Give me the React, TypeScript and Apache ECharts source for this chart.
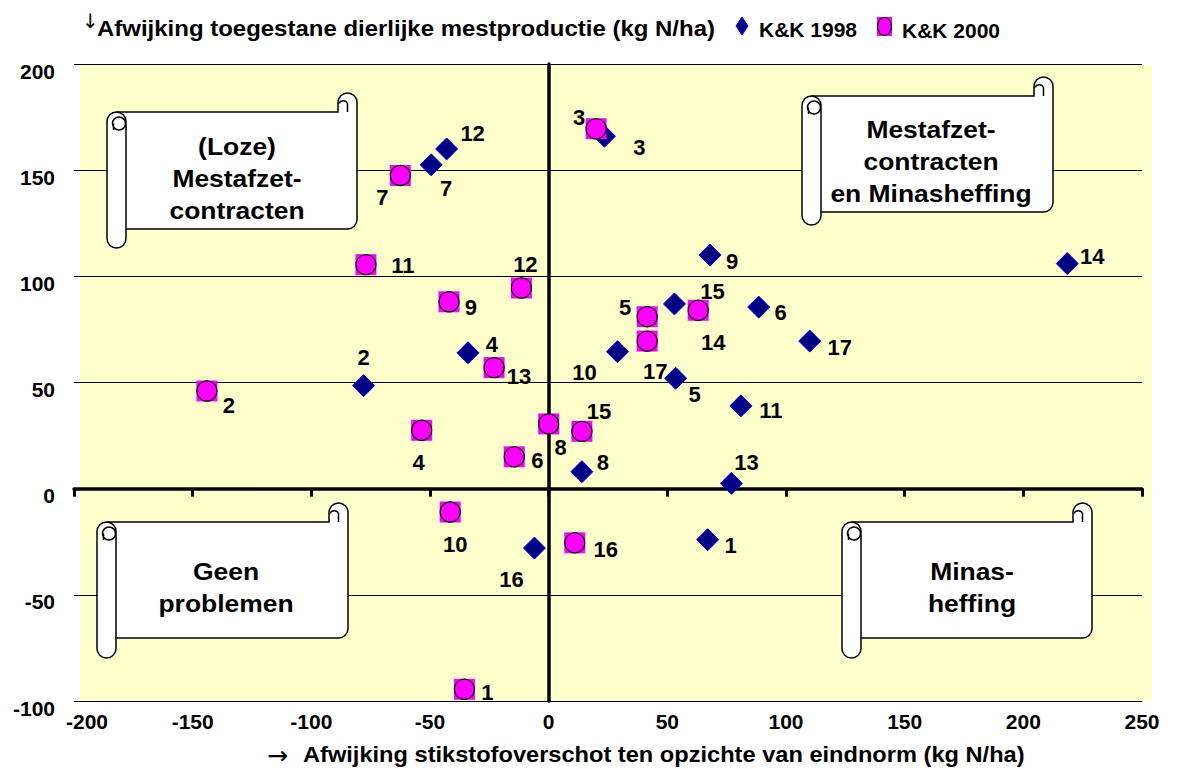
import { useEffect, useRef } from "react";
import * as echarts from "echarts";

// Farm numbers shown next to each point
const POINT_NO = [1, 2, 3, 4, 5, 6, 7, 8, 9, 10, 11, 12, 13, 14, 15, 16, 17];

// K&K 1998: deviation of N surplus (x) and of allowed manure production (y), kg N/ha
const KK1998_X = [67, -78, 23.5, -34, 53.5, 88.5, -49.5, 14, 68, 29, 81, -43, 77, 218.5, 53, -6, 110];
const KK1998_Y = [-24, 48.5, 166, 64, 52, 85.5, 152.5, 8, 110, 64.5, 39, 160, 2.5, 106, 87, -28, 69.5];

// K&K 2000
const KK2000_X = [-35.5, -144, 20, -53.5, 41.5, -14.5, -62.5, 0, -42, -41.5, -77, -11.5, -23, 63, 14, 11, 41.5];
const KK2000_Y = [-94.5, 46, 169.5, 27.5, 81, 15, 147.5, 30.5, 88, -11, 105.5, 94.5, 57, 84, 27, -25.5, 69.5];

const SERIES_NAMES = ["K&K 1998", "K&K 2000"];
const X_TITLE = "Afwijking stikstofoverschot ten opzichte van eindnorm (kg N/ha)";
const Y_TITLE = "Afwijking toegestane dierlijke mestproductie (kg N/ha)";
const X_ARROW = "\u2192";
const Y_ARROW = "\u2193";
const PANEL_TEXT = [
  "(Loze)\nMestafzet-\ncontracten",
  "Mestafzet-\ncontracten\nen Minasheffing",
  "Geen\nproblemen",
  "Minas-\nheffing",
];

// label placement (px offset from the marker centre), per farm number
const LABEL_OFF_1998 = [
  [23, 6], [0, -28], [35, 11], [24, -8], [19, 16], [22, 5], [15, 24], [21, -9], [22, 6],
  [-33, 21], [30, 5], [26, -15], [15, -21], [25, -7], [38, -12], [-23, 31], [30, 6],
];
const LABEL_OFF_2000 = [
  [23, 3], [22, 15], [-17, -11], [-3, 32], [-22, -9], [23, 4], [-18, 22], [12, 24], [22, 6],
  [5, 32], [37, 1], [4, -24], [25, 9], [15, 32], [17, -20], [31, 7], [8, 30],
];

// scroll panels: left, top, right, roll bottom, body bottom
const PANELS = [
  { L: 107, T: 93, R: 357, B: 248, BB: 229, cx: 237, cy: 179 },
  { L: 802, T: 77, R: 1053, B: 225, BB: 212, cx: 931, cy: 162 },
  { L: 97, T: 503, R: 348, B: 658, BB: 638, cx: 226, cy: 588 },
  { L: 842, T: 503, R: 1092, B: 658, BB: 638, cx: 972, cy: 588 },
];

const FONT = "'Liberation Sans', Arial, sans-serif";
const ARROW_FONT = "'DejaVu Sans', sans-serif";
const W = 19;

function outlinePath(p: any) {
  const { L, T, R, B, BB } = p;
  const r = W / 2;
  return [
    `M${L + r} ${T + W}`,
    `L${R - W} ${T + W}`,
    `L${R - W} ${T + r}`,
    `A${r} ${r} 0 0 1 ${R} ${T + r}`,
    `L${R} ${BB - r}`,
    `A${r} ${r} 0 0 1 ${R - r} ${BB}`,
    `L${L + W} ${BB}`,
    `L${L + W} ${B - r}`,
    `A${r} ${r} 0 0 1 ${L} ${B - r}`,
    `L${L} ${T + W + r}`,
    `A${r} ${r} 0 0 1 ${L + r} ${T + W}`,
    "Z",
  ].join(" ");
}

function detailPath(p: any) {
  const { L, T, R, BB } = p;
  const r = W / 2;
  const cr = r - 3;
  const ccx = L + r + 2.5;
  const ccy = T + W + r + 2;
  return [
    // right side of the left roll
    `M${L + r} ${T + W} A${r} ${r} 0 0 1 ${L + W} ${T + W + r} L${L + W} ${BB}`,
    // curl at the top of the left roll
    `M${ccx - cr} ${ccy} A${cr} ${cr} 0 1 1 ${ccx + cr} ${ccy} A${cr} ${cr} 0 1 1 ${ccx - cr} ${ccy}`,
    `M${ccx - cr + 1} ${ccy} L${ccx - cr + 1} ${ccy + cr}`,
    // curl at the top right
    `M${R - r} ${T + W} L${R - r} ${T + r + 1} A${r / 2} ${r / 2} 0 0 0 ${R - W + 1} ${T + r + 1}`,
  ].join(" ");
}

PANELS.forEach((p, i) => {
  echarts.graphic.registerShape("scrollBody" + i, echarts.graphic.extendPath(outlinePath(p), {}));
  echarts.graphic.registerShape("scrollLine" + i, echarts.graphic.extendPath(detailPath(p), {}));
});

function buildData(xs: number[], ys: number[], offs: number[][] | null) {
  return xs.map((x, i) => {
    const item: any = { value: [x, ys[i], POINT_NO[i]] };
    if (offs) item.label = { offset: offs[i] };
    return item;
  });
}

export default function App() {
  const ref = useRef<HTMLDivElement>(null);

  useEffect(() => {
    if (!ref.current) return;
    const chart = echarts.init(ref.current, null, { renderer: "svg" });

    const numLabel = {
      show: true,
      position: "inside",
      formatter: (p: any) => String(p.value[2]),
      color: "#000000",
      opacity: 1,
      fontSize: 22,
      fontWeight: "bold",
      fontFamily: FONT,
      align: "center",
      verticalAlign: "middle",
      textBorderWidth: 0,
      textBorderColor: "transparent",
      textShadowBlur: 0,
      textShadowColor: "transparent",
    };

    const textStyle = (size: number) => ({
      fill: "#000",
      fontSize: size,
      fontWeight: "bold",
      fontFamily: FONT,
      align: "left",
      verticalAlign: "middle",
    });

    const graphics: any[] = [
      {
        type: "rect",
        z: -10,
        silent: true,
        shape: { x: 80, y: 65, width: 1072, height: 635 },
        style: { fill: "#FFFFCC" },
      },
    ];

    PANELS.forEach((p, i) => {
      graphics.push({
        type: "scrollBody" + i,
        z: 10,
        silent: true,
        style: { fill: "#FFFFFF", stroke: "#000000", lineWidth: 1.5 },
      });
      graphics.push({
        type: "scrollLine" + i,
        z: 11,
        silent: true,
        style: { fill: null, stroke: "#000000", lineWidth: 1.5 },
      });
      graphics.push({
        type: "text",
        z: 12,
        silent: true,
        x: p.cx,
        y: p.cy,
        scaleX: 1.15,
        style: {
          text: PANEL_TEXT[i],
          fill: "#000",
          fontSize: 23,
          fontWeight: "bold",
          fontFamily: FONT,
          align: "center",
          verticalAlign: "middle",
          lineHeight: 32,
        },
      });
    });

    // axis titles and legend
    graphics.push(
      {
        type: "text",
        silent: true,
        x: 82,
        y: 21,
        style: {
          text: Y_ARROW,
          fill: "#000",
          fontSize: 20,
          fontWeight: "normal",
          fontFamily: ARROW_FONT,
          align: "left",
          verticalAlign: "middle",
        },
      },
      {
        type: "text",
        silent: true,
        x: 97,
        y: 28,
        scaleX: 1.09,
        style: { ...textStyle(22), text: Y_TITLE },
      },
      {
        type: "polygon",
        silent: true,
        shape: { points: [[742, 17], [748, 26], [742, 35], [736, 26]] },
        style: { fill: "#000080", stroke: "#0000FF", lineWidth: 1 },
      },
      {
        type: "text",
        silent: true,
        x: 759,
        y: 29,
        style: { ...textStyle(21), text: SERIES_NAMES[0] },
      },
      {
        type: "rect",
        silent: true,
        shape: { x: 877, y: 17, width: 15, height: 19 },
        style: { fill: "#FF00FF" },
      },
      {
        type: "ellipse",
        silent: true,
        shape: { cx: 884.5, cy: 26.5, rx: 7, ry: 9 },
        style: { fill: "#FF00FF", stroke: "#000", lineWidth: 1.2 },
      },
      {
        type: "text",
        silent: true,
        x: 902,
        y: 30,
        style: { ...textStyle(21), text: SERIES_NAMES[1] },
      },
      {
        type: "text",
        silent: true,
        x: 267,
        y: 755,
        style: {
          text: X_ARROW,
          fill: "#000",
          fontSize: 25,
          fontWeight: "normal",
          fontFamily: ARROW_FONT,
          align: "left",
          verticalAlign: "middle",
        },
      },
      {
        type: "text",
        silent: true,
        x: 303,
        y: 754,
        scaleX: 1.074,
        style: { ...textStyle(22), text: X_TITLE },
      }
    );

    const tickLabel = {
      color: "#000",
      fontSize: 21,
      fontWeight: "bold",
      fontFamily: FONT,
    };

    chart.setOption({
      animation: false,
      backgroundColor: "#FFFFFF",
      grid: { left: 74, right: 37, top: 64, bottom: 69, containLabel: false },
      xAxis: [
        {
          type: "value",
          min: -200,
          max: 250,
          interval: 50,
          position: "bottom",
          axisLine: { show: false, onZero: false },
          axisTick: { show: false },
          splitLine: { show: false },
          axisLabel: {
            ...tickLabel,
            margin: 10,
            formatter: (v: number) => (v === -200 ? "{first|" + v + "}" : String(v)),
            rich: {
              first: { ...tickLabel, padding: [0, 0, 0, 26] },
            },
          },
        },
        {
          type: "value",
          min: -200,
          max: 250,
          interval: 50,
          position: "bottom",
          axisLine: { show: true, onZero: true, onZeroAxisIndex: 0, lineStyle: { color: "#000", width: 3.5 } },
          axisTick: { show: true, length: 8, lineStyle: { color: "#000", width: 3 } },
          splitLine: { show: false },
          axisLabel: { show: false },
        },
      ],
      yAxis: [
        {
          type: "value",
          min: -100,
          max: 200,
          interval: 50,
          position: "left",
          axisLine: { show: false, onZero: false },
          axisTick: { show: false },
          splitLine: { show: true, lineStyle: { color: "#000", width: 1 } },
          axisLabel: { ...tickLabel, margin: 19, verticalAlign: "top", lineHeight: 14 },
        },
        {
          type: "value",
          min: -100,
          max: 200,
          interval: 50,
          position: "left",
          axisLine: { show: true, onZero: true, onZeroAxisIndex: 0, lineStyle: { color: "#000", width: 3.5 } },
          axisTick: { show: false },
          splitLine: { show: false },
          axisLabel: { show: false },
        },
      ],
      graphic: graphics,
      series: [
        {
          name: SERIES_NAMES[0],
          type: "scatter",
          xAxisIndex: 0,
          yAxisIndex: 0,
          symbol: "diamond",
          symbolSize: 22,
          itemStyle: { color: "#000080", borderColor: "#0000FF", borderWidth: 1, opacity: 1 },
          label: numLabel,
          emphasis: { disabled: true },
          z: 3,
          data: buildData(KK1998_X, KK1998_Y, LABEL_OFF_1998),
        },
        {
          name: SERIES_NAMES[1] + " ",
          type: "scatter",
          xAxisIndex: 0,
          yAxisIndex: 0,
          symbol: "rect",
          symbolSize: 21,
          silent: true,
          itemStyle: { color: "#FF00FF", opacity: 1 },
          label: { show: false },
          emphasis: { disabled: true },
          z: 4,
          data: buildData(KK2000_X, KK2000_Y, null),
        },
        {
          name: SERIES_NAMES[1],
          type: "scatter",
          xAxisIndex: 0,
          yAxisIndex: 0,
          symbol: "circle",
          symbolSize: 20,
          itemStyle: { color: "#FF00FF", borderColor: "#000000", borderWidth: 1.2, opacity: 1 },
          label: numLabel,
          emphasis: { disabled: true },
          z: 5,
          data: buildData(KK2000_X, KK2000_Y, LABEL_OFF_2000),
        },
      ],
    });

    return () => chart.dispose();
  }, []);

  return (
    <div
      ref={ref}
      style={{ position: "fixed", left: 0, top: 0, width: 1179, height: 770, background: "#fff" }}
    />
  );
}
